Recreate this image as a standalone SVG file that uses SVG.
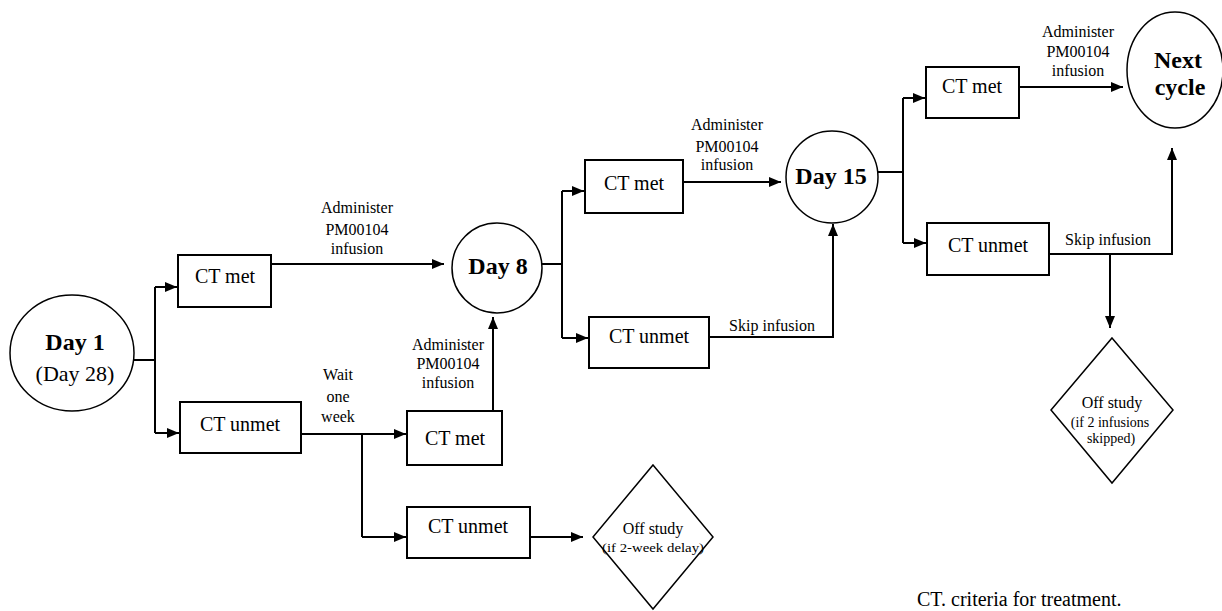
<svg xmlns="http://www.w3.org/2000/svg" width="1222" height="611" viewBox="0 0 1222 611" font-family="'Liberation Serif', 'Times New Roman', serif">
<defs>
<marker id="ah" viewBox="0 0 12 10" refX="12" refY="5" markerWidth="12" markerHeight="10" markerUnits="userSpaceOnUse" orient="auto">
<path d="M0,0 L12,5 L0,10 Z" fill="#000"/>
</marker>
</defs>
<style>
.box{fill:#fff;stroke:#000;stroke-width:2}
.circ{fill:#fff;stroke:#000;stroke-width:1.5}
.dia{fill:#fff;stroke:#000;stroke-width:1.5}
.c{fill:none;stroke:#000;stroke-width:2}
.a{fill:none;stroke:#000;stroke-width:2;marker-end:url(#ah)}
text{font-family:'Liberation Serif','Times New Roman',serif;fill:#000;text-anchor:middle}
.bt{font-family:'Liberation Serif',serif;font-size:20px}
.lb{font-family:'Liberation Serif',serif;font-size:16px}
.big{font-family:'Liberation Serif',serif;font-size:24px;font-weight:bold}
.sm{font-family:'Liberation Serif',serif}
</style>
<rect width="1222" height="611" fill="#fff"/>
<g id="connectors">
<path class="c" d="M133,360 H155 M155,287 V433"/>
<path class="a" d="M155,287 H177"/>
<path class="a" d="M155,433 H179"/>
<path class="a" d="M271,264 H444"/>
<path class="a" d="M301,434 H406"/>
<path class="c" d="M362,434 V537"/>
<path class="a" d="M362,537 H406"/>
<path class="a" d="M493,411 V317"/>
<path class="c" d="M542,264 H562 M562,191 V338"/>
<path class="a" d="M562,191 H584"/>
<path class="a" d="M562,338 H588"/>
<path class="a" d="M683,182 H781"/>
<path class="a" d="M709,337 H833 V224"/>
<path class="c" d="M878,172 H903 M903,98 V243"/>
<path class="a" d="M903,98 H925"/>
<path class="a" d="M903,243 H926"/>
<path class="a" d="M1019,87 H1123"/>
<path class="a" d="M1049,254 H1172 V148"/>
<path class="a" d="M1110,254 V328"/>
<path class="a" d="M530,537 H583"/>
</g>
<g id="day1">
<ellipse class="circ" cx="72" cy="353" rx="62" ry="58"/>
<text class="big" x="75" y="350">Day 1</text>
<text class="sm" x="75" y="381" font-size="22">(Day 28)</text>
</g>
<g id="ctmet1">
<rect class="box" x="178" y="255" width="93" height="52"/>
<text class="bt" x="225" y="283">CT met</text>
</g>
<g id="ctunmet1">
<rect class="box" x="180" y="402" width="121" height="51"/>
<text class="bt" x="240" y="431">CT unmet</text>
</g>
<g id="day8">
<circle class="circ" cx="497" cy="268" r="45"/>
<text class="big" x="498" y="274">Day 8</text>
</g>
<g id="ctmet4">
<rect class="box" x="407" y="411" width="95" height="54"/>
<text class="bt" x="455" y="445">CT met</text>
</g>
<g id="ctunmet4">
<rect class="box" x="407" y="507" width="123" height="51"/>
<text class="bt" x="468" y="533">CT unmet</text>
</g>
<g id="off1">
<polygon class="dia" points="653,465 713,537 653,609 593,537"/>
<text class="sm" x="653" y="534" font-size="16">Off study</text>
<text class="sm" x="653" y="552" font-size="12" textLength="102" lengthAdjust="spacingAndGlyphs">(if 2-week delay)</text>
</g>
<g id="ctmet2">
<rect class="box" x="585" y="160" width="98" height="53"/>
<text class="bt" x="634" y="190">CT met</text>
</g>
<g id="ctunmet2">
<rect class="box" x="589" y="317" width="120" height="51"/>
<text class="bt" x="649" y="343">CT unmet</text>
</g>
<g id="day15">
<circle class="circ" cx="832" cy="177" r="46"/>
<text class="big" x="831" y="184">Day 15</text>
</g>
<g id="ctmet3">
<rect class="box" x="926" y="67" width="93" height="51"/>
<text class="bt" x="972" y="93">CT met</text>
</g>
<g id="ctunmet3">
<rect class="box" x="927" y="223" width="122" height="52"/>
<text class="bt" x="988" y="252">CT unmet</text>
</g>
<g id="nextcycle">
<ellipse class="circ" cx="1175" cy="70" rx="48" ry="58"/>
<text class="big" x="1178" y="68">Next</text>
<text class="big" x="1180" y="95">cycle</text>
</g>
<g id="off2">
<polygon class="dia" points="1112,338 1173,410 1112,483 1051,410"/>
<text class="sm" x="1112" y="408" font-size="16">Off study</text>
<text class="sm" x="1110" y="427" font-size="14">(if 2 infusions</text>
<text class="sm" x="1111" y="443" font-size="14">skipped)</text>
</g>
<g id="labels">
<text class="lb" x="357" y="213">Administer</text>
<text class="lb" x="357" y="235">PM00104</text>
<text class="lb" x="357" y="254">infusion</text>
<text class="lb" x="727" y="130">Administer</text>
<text class="lb" x="727" y="152">PM00104</text>
<text class="lb" x="727" y="170">infusion</text>
<text class="lb" x="1078" y="37">Administer</text>
<text class="lb" x="1078" y="57">PM00104</text>
<text class="lb" x="1078" y="76">infusion</text>
<text class="lb" x="448" y="350">Administer</text>
<text class="lb" x="448" y="369">PM00104</text>
<text class="lb" x="448" y="388">infusion</text>
<text class="lb" x="338" y="380">Wait</text>
<text class="lb" x="338" y="402">one</text>
<text class="lb" x="338" y="422">week</text>
<text class="lb" x="772" y="331">Skip infusion</text>
<text class="lb" x="1108" y="245">Skip infusion</text>
</g>
<g id="legend">
<text class="sm" x="917" y="606" font-size="20" text-anchor="start" style="text-anchor:start">CT. criteria for treatment.</text>
</g>
</svg>
